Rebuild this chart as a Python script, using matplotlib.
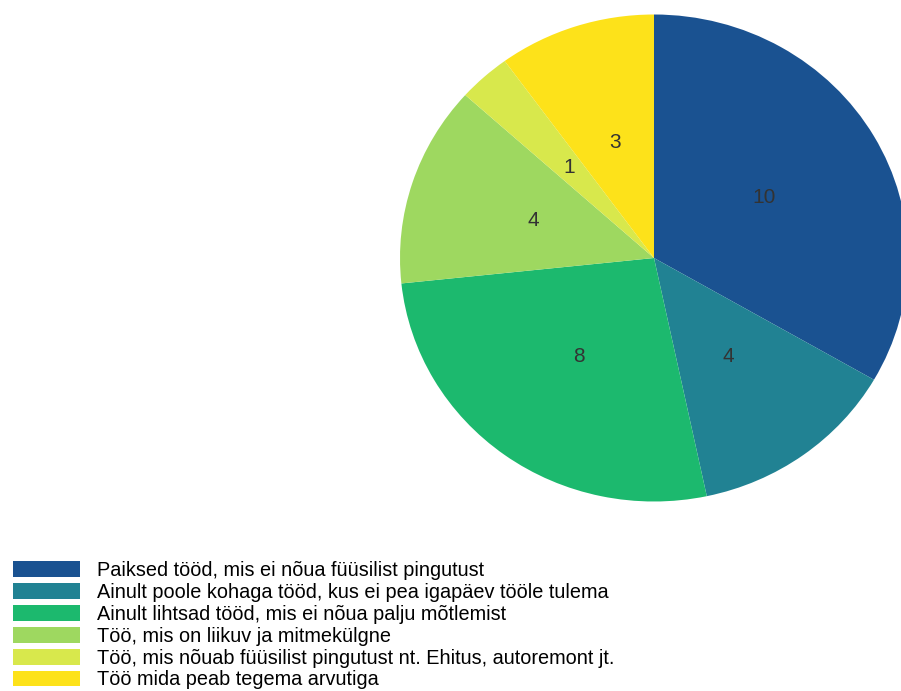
import matplotlib
matplotlib.use("Agg")
import matplotlib.pyplot as plt
from matplotlib.patches import Patch

categories = [
    "Paiksed tööd, mis ei nõua füüsilist pingutust",
    "Ainult poole kohaga tööd, kus ei pea igapäev tööle tulema",
    "Ainult lihtsad tööd, mis ei nõua palju mõtlemist",
    "Töö, mis on liikuv ja mitmekülgne",
    "Töö, mis nõuab füüsilist pingutust nt. Ehitus, autoremont jt.",
    "Töö mida peab tegema arvutiga",
]
values = [10, 4, 8, 4, 1, 3]
colors = ["#1a5291", "#218293", "#1cb96e", "#9ed860", "#d8e84c", "#fde21a"]

plt.rcParams['font.family'] = ['Liberation Sans', 'DejaVu Sans']

W, H = 901, 691
fig = plt.figure(figsize=(W / 100, H / 100), dpi=100)

cx, cy, rx, ry = 654, 258, 254, 243.5
ax = fig.add_axes([(cx - rx) / W, (H - cy - ry) / H, 2 * rx / W, 2 * ry / H])
wedges, texts = ax.pie(values, colors=colors, startangle=90, counterclock=False,
                       labels=[str(v) for v in values], labeldistance=0.5,
                       wedgeprops=dict(linewidth=0),
                       textprops=dict(fontsize=15, color="#333333"))
for t in texts:
    t.set_ha("center")
    t.set_va("center")
ax.set_aspect("auto")
ax.set_xlim(-1, 1)
ax.set_ylim(-1, 1)
ax.axis("off")

fs = 14.3
px = fs * 100 / 72
handles = [Patch(facecolor=c, edgecolor="none") for c in colors]
fig.legend(handles, categories, loc="upper left",
           bbox_to_anchor=(13 / W, 1 - 561 / H), frameon=False,
           fontsize=fs, handlelength=67 / px, handleheight=17 / px,
           labelspacing=0.145, handletextpad=17 / px, borderpad=0, borderaxespad=0)

fig.savefig("out.png", dpi=100)
